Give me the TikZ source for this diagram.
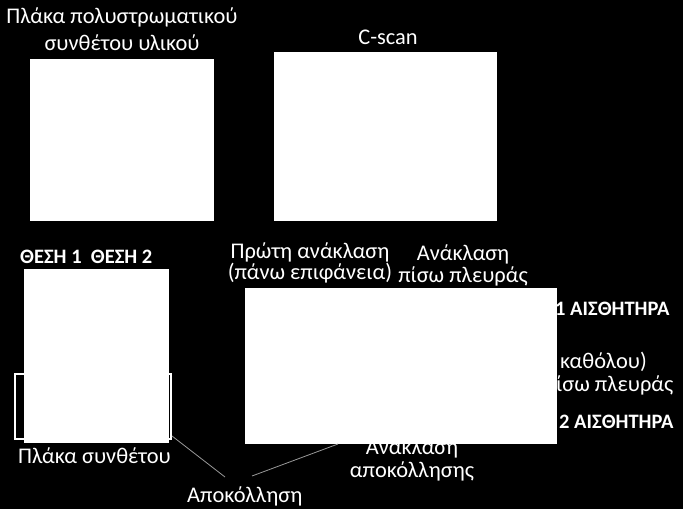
\documentclass[tikz,border=0pt]{standalone}
\usepackage{fontspec}
\setmainfont{Carlito}
\usetikzlibrary{positioning}
\tikzset{
  panel/.style={fill=white,draw=none,inner sep=0pt},
  label/.style={text=white,inner sep=0pt,font=\fontsize{22.4}{27}\selectfont},
  tag/.style={text=white,inner sep=0pt,font=\bfseries\fontsize{20.5}{24}\selectfont},
  pointer/.style={draw=gray!80,line width=0.8pt}
}
\begin{document}
\begin{tikzpicture}[x=1pt,y=-1pt]
    \fill[black] (0,0) rectangle (683,509);
    \useasboundingbox (0,0) rectangle (683,509);
    % titles
    \node[label,anchor=base] (titleA) at (122,23) {Πλάκα πολυστρωματικού};
    \node[label,anchor=base] (titleB) at (122,50) {συνθέτου υλικού};
    \node[label,anchor=base] (cscan) at (388,44) {C-scan};
    % top pictures
    \node[panel,minimum width=184pt,minimum height=162pt] (plate) at (122,140) {};
    \node[panel,minimum width=223pt,minimum height=169pt] (scanpic) at (385.5,136.5) {};
    % setup
    \node[tag,anchor=base west] (pos) at (20,263) {ΘΕΣΗ 1\ \ ΘΕΣΗ 2};
    \draw[white,line width=2pt] (15,374) rectangle (171,439);
    \node[panel,minimum width=145pt,minimum height=174pt] (setup) at (96.5,356) {};
    \node[label,anchor=base west] (sample) at (18,463) {Πλάκα συνθέτου};
    \node[label,anchor=base west] (bond) at (187,502) {Αποκόλληση};
    % signals
    \node[label,anchor=base] (firstA) at (310,258) {Πρώτη ανάκλαση};
    \node[label,anchor=base] (firstB) at (310,279) {(πάνω επιφάνεια)};
    \node[label,anchor=base] (backA) at (463,260) {Ανάκλαση};
    \node[label,anchor=base] (backB) at (463,282) {πίσω πλευράς};
    \node[label,anchor=base] (delamA) at (412,454) {Ανάκλαση};
    \node[label,anchor=base] (delamB) at (412,477) {αποκόλλησης};
    \node[panel,minimum width=312pt,minimum height=156pt] (signal) at (401,366) {};
    \node[tag,anchor=west] (sensorA) at (555,309) {1 ΑΙΣΘΗΤΗΡΑ};
    \node[label,anchor=base west] (noneA) at (560,368) {καθόλου)};
    \node[label,anchor=base west] (noneB) at (556,391) {ίσω πλευράς};
    \node[tag,anchor=west] (sensorB) at (559,422) {2 ΑΙΣΘΗΤΗΡΑ};
    % pointers
    \coordinate (edgeA) at (172,436);
    \coordinate (edgeB) at (338,444);
    \coordinate (bondA) at (225,477);
    \coordinate (bondB) at (252,476);
    \begin{scope}[every edge/.style={pointer}]
    \path (edgeA) edge (bondA);
    \path (bondB) edge (edgeB);
    \end{scope}
\end{tikzpicture}
\end{document}
